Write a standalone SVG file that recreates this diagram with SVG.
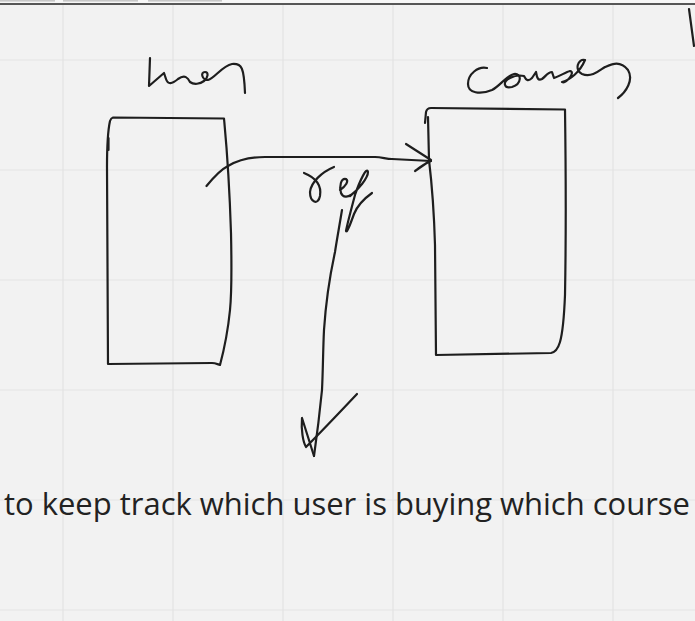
<svg xmlns="http://www.w3.org/2000/svg" width="695" height="621" viewBox="0 0 695 621">
<style>
.grid{stroke:#e3e3e3;stroke-width:1.2;fill:none}
.ink{stroke:#1e1e1e;stroke-width:2.2;fill:none;stroke-linecap:round;stroke-linejoin:round}
.caption{font-family:"Open Sans","Noto Sans","Liberation Sans",sans-serif;font-size:30.5px;fill:#222}
</style>
<rect x="0" y="0" width="695" height="621" fill="#f2f2f2"/>
<g id="topbar">
<rect x="0" y="0" width="695" height="4" fill="#f7f7f7"/>
<rect x="0" y="0" width="55" height="1.6" fill="#c8c8c8"/>
<rect x="63" y="0" width="75" height="1.6" fill="#c8c8c8"/>
<rect x="148" y="0" width="74" height="1.6" fill="#c8c8c8"/>
<line x1="0" y1="4" x2="695" y2="4" stroke="#222" stroke-width="1.6"/>
</g>
<g id="grid" class="grid">
<line x1="63" y1="5" x2="63" y2="621"/>
<line x1="173" y1="5" x2="173" y2="621"/>
<line x1="283" y1="5" x2="283" y2="621"/>
<line x1="393" y1="5" x2="393" y2="621"/>
<line x1="503" y1="5" x2="503" y2="621"/>
<line x1="613" y1="5" x2="613" y2="621"/>
<line x1="0" y1="60" x2="695" y2="60"/>
<line x1="0" y1="170" x2="695" y2="170"/>
<line x1="0" y1="280" x2="695" y2="280"/>
<line x1="0" y1="390" x2="695" y2="390"/>
<line x1="0" y1="500" x2="695" y2="500"/>
<line x1="0" y1="610" x2="695" y2="610"/>
</g>
<g id="edge-mark">
<path class="ink" d="M689,9 L694,46"/>
</g>
<g id="node-user">
<path class="ink" d="M113,117.5 L224,118.5 C226,140 229,170 231,233 C232,280 231,300 230,310 C228,330 224,350 220,365 C217,364 215,363 212,363 L108,364 L107,167 C107,150 108,130 110,121 Q111,118 113,117.5 Z"/>
<path class="ink" stroke-width="3.4" d="M108.5,138 L108.5,150"/>
<path class="ink" d="M150,58 L149,86 L164,73 L166,79 C168,85 172,84 178,79 C185,74 188,78 190,82 C194,85 200,84 204,81 C208,78 209,72 205,72 C200,72 202,80 208,80 C215,78 222,66 232,64 C242,63 244,68 245,93"/>
</g>
<g id="node-courses">
<path class="ink" d="M425,123 L426,112 Q427,108 431,108 L565,109.5 C566,180 566,240 565,295 C564,320 562,335 560,342 Q557,352 551,353 L436,355 L435,245 C434,210 432,185 429,160 L428,117"/>
<path class="ink" d="M487,68 C478,66 468,74 468,84 C468,93 480,95 492,90 C500,86 506,76 514,74 C522,73 522,84 512,87 C504,89 502,82 510,78 C516,75 520,75 524,76 C526,80 528,82 532,78 L536,72 C537,78 538,81 542,79 C546,76 548,72 552,72 L554,78 C560,76 566,72 570,71 C576,72 566,84 562,82 C570,80 580,72 585,60 C578,58 574,70 582,74 C592,78 600,70 605,67 C612,64 620,60 628,70 C634,80 626,92 618,98"/>
</g>
<g id="connectors">
<path id="edge-ref" class="ink" d="M206.5,186 C213,178 220,170 228,166 C238,160 250,157 265,157 L375,157 C382,157 386,159 392,159 L431,161"/>
<path class="ink" d="M406,144 L431,160 L415,171 C420,167 426,163 431,161"/>
<path id="edge-down" class="ink" d="M342,210 C339,228 336,245 335,252 C330,275 326,300 324,330 C323,350 323,370 322,390 C320,410 317,435 314,456"/>
<path class="ink" d="M314,456 L302,418 C301,430 303,442 306,447 C320,433 340,412 357,394"/>
<path class="ink" d="M304,173 C314,177 322,184 320,196 C318,206 310,202 310,192 C311,182 322,172 334,167"/>
<path class="ink" d="M340,190 C346,186 349,181 346,179 C341,178 339,186 341,193 C343,198 348,197 351,195"/>
<path class="ink" d="M350,196 C358,190 368,178 368,172 C367,166 360,180 355,195 C351,210 347,225 346,231 C347,233 350,225 354,214 C358,204 365,198 372,193"/>
</g>
<g id="caption">
<text class="caption" x="4" y="515" textLength="686" lengthAdjust="spacingAndGlyphs">to keep track which user is buying which course</text>
</g>
</svg>
